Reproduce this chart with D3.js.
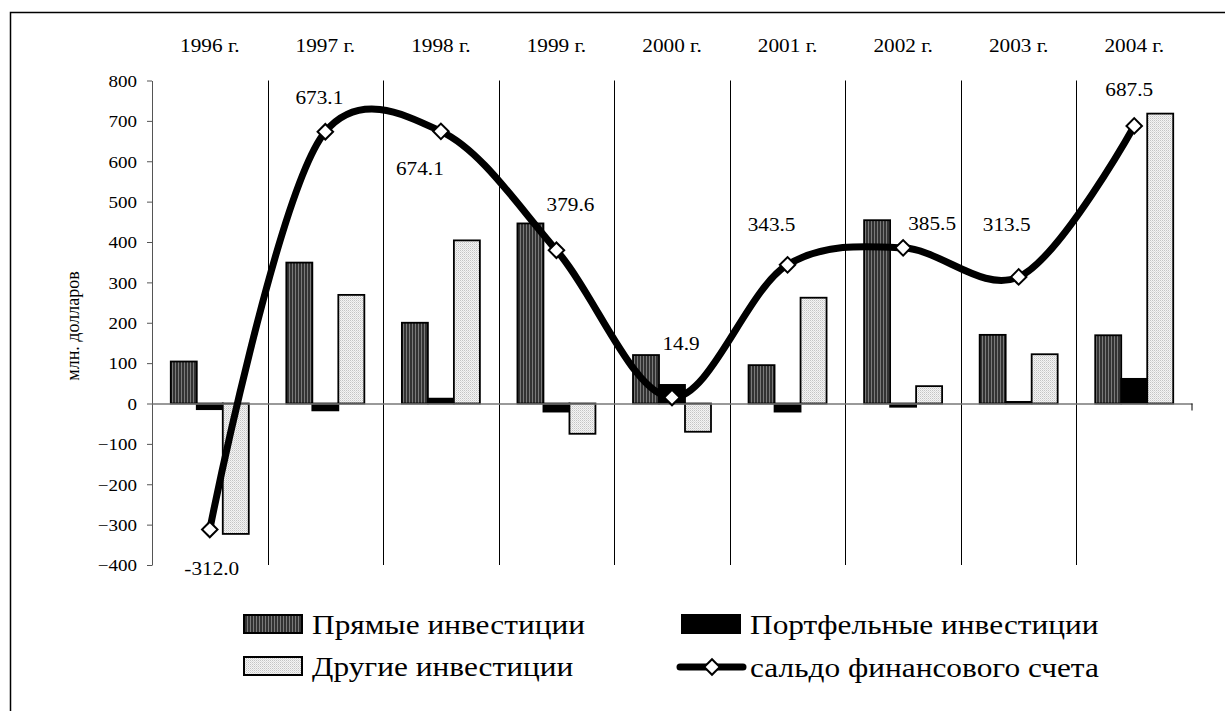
<!DOCTYPE html>
<html>
<head>
<meta charset="utf-8">
<script src="https://cdn.jsdelivr.net/npm/d3@7"></script>
<style>
  body { margin: 0; background: #fff; }
  svg { display: block; }
  svg text { font-family: 'Liberation Serif', 'DejaVu Serif', serif; fill: #000; }
</style>
</head>
<body>
<svg id="chart"></svg>
<script>
var years = ["1996 г.", "1997 г.", "1998 г.", "1999 г.", "2000 г.", "2001 г.", "2002 г.", "2003 г.", "2004 г."];
var direct = [104, 349, 200, 446, 120, 95, 454, 170, 169];
var portfolio = [-14, -17, 12, -20, 46, -20, -8, 4, 61];
var other = [-323, 269, 404, -75, -70, 262, 43, 122, 718];
var balance = [-312.0, 673.1, 674.1, 379.6, 14.9, 343.5, 385.5, 313.5, 687.5];
var yTicks = [-400, -300, -200, -100, 0, 100, 200, 300, 400, 500, 600, 700, 800];
var seriesNames = ["Прямые инвестиции", "Портфельные инвестиции", "Другие инвестиции", "сальдо финансового счета"];

// label offsets from the marker (dx, dy)
var labelOff = [[2, 40], [-6, -34], [-21, 38], [14, -45], [9, -53], [-16, -40], [29, -24], [-12, -52], [-5, -36]];

var W = 1225, H = 711;
var sx = 1.12;   // the fonts look a bit wide in the picture

var svg = d3.select("#chart").attr("width", W).attr("height", H);

var defs = svg.append("defs");
var pd = defs.append("pattern").attr("id", "pDark").attr("patternUnits", "userSpaceOnUse")
    .attr("width", 3).attr("height", 3);
pd.append("rect").attr("width", 3).attr("height", 3).attr("fill", "#333");
pd.append("rect").attr("x", 1).attr("width", 1).attr("height", 3).attr("fill", "#7a7a7a");

var pl = defs.append("pattern").attr("id", "pLight").attr("patternUnits", "userSpaceOnUse")
    .attr("width", 2).attr("height", 2);
pl.append("rect").attr("width", 2).attr("height", 2).attr("fill", "#f4f4f4");
pl.append("rect").attr("width", 1).attr("height", 1).attr("fill", "#c4c4c4");
pl.append("rect").attr("x", 1).attr("y", 1).attr("width", 1).attr("height", 1).attr("fill", "#dcdcdc");

var fills = ["url(#pDark)", "#000", "url(#pLight)"];

// frame (only top and left edges show in the picture)
svg.append("path").attr("d", "M10.5," + H + "V12.5H" + W)
   .attr("fill", "none").attr("stroke", "#000").attr("stroke-width", 1.5);

var x0 = d3.scaleBand().domain(years).range([152, 1192]).padding(0);
var bw = x0.bandwidth();
var x1 = d3.scaleBand().domain([0, 1, 2]).range([bw * 0.1625, bw * 0.8375]).padding(0);
var y = d3.scaleLinear().domain([-400, 800]).range([565, 80.5]);

function stretch(sel, k) {
  sel.each(function() {
    var t = d3.select(this);
    var x = +t.attr("x") || 0, yy = +t.attr("y") || 0;
    t.attr("x", 0).attr("y", 0)
     .attr("transform", "translate(" + x + "," + yy + ") scale(" + k + ",1)");
  });
}

// category separators
svg.append("g").selectAll("line").data(years.slice(1)).join("line")
   .attr("x1", d => Math.round(x0(d)) + 0.5).attr("x2", d => Math.round(x0(d)) + 0.5)
   .attr("y1", y(800)).attr("y2", y(-400))
   .attr("stroke", "#000").attr("stroke-width", 1);

// y axis
var yAxis = d3.axisLeft(y).tickValues(yTicks).tickSize(5).tickPadding(10).tickSizeOuter(0);
var gy = svg.append("g").attr("transform", "translate(152,0)").call(yAxis)
   .attr("font-family", null);
gy.select(".domain").attr("stroke", "#555");
gy.selectAll(".tick line").attr("stroke", "#555");
gy.selectAll(".tick text").attr("font-size", 17).attr("dy", "0.34em");
stretch(gy.selectAll(".tick text").attr("x", -15), sx);

// y title
svg.append("text").attr("transform", "translate(79,326) rotate(-90)")
   .attr("text-anchor", "middle").attr("font-size", 18).text("млн. долларов");

// category labels on top
var gl = svg.append("g").selectAll("text").data(years).join("text")
   .attr("x", d => x0(d) + bw / 2).attr("y", 52)
   .attr("text-anchor", "middle").attr("font-size", 19).text(d => d);
stretch(gl, sx);

// bars
var barData = [];
years.forEach(function(yr, i) {
  [direct[i], portfolio[i], other[i]].forEach(function(v, s) {
    barData.push({yr: yr, s: s, v: v});
  });
});
svg.append("g").selectAll("rect").data(barData).join("rect")
   .attr("x", d => x0(d.yr) + x1(d.s))
   .attr("width", x1.bandwidth())
   .attr("y", d => y(Math.max(0, d.v)))
   .attr("height", d => Math.abs(y(d.v) - y(0)))
   .attr("fill", d => fills[d.s])
   .attr("stroke", "#000").attr("stroke-width", 1.8);

// x axis line
var xAxis = d3.axisBottom(x0).tickSize(0).tickFormat("");
var gx = svg.append("g").attr("transform", "translate(0," + y(0) + ")").call(xAxis);
gx.select(".domain").attr("stroke", "#777").attr("stroke-width", 1.5);
gx.append("line").attr("x1", 1192).attr("x2", 1192).attr("y1", 0).attr("y2", 7).attr("stroke", "#000");

// balance line
var pts = balance.map((v, i) => [x0(years[i]) + bw / 2, y(v)]);
var line = d3.line().curve(d3.curveCatmullRom.alpha(0.25));
svg.append("path").attr("d", line(pts))
   .attr("fill", "none").attr("stroke", "#000").attr("stroke-width", 7)
   .attr("stroke-linejoin", "round");

var diamond = d3.symbol().type(d3.symbolSquare).size(120);
svg.append("g").selectAll("path").data(pts).join("path")
   .attr("d", diamond)
   .attr("transform", d => "translate(" + d[0] + "," + d[1] + ") rotate(45)")
   .attr("fill", "#fff").attr("stroke", "#000").attr("stroke-width", 2);

var dl = svg.append("g").selectAll("text").data(pts).join("text")
   .attr("x", (d, i) => d[0] + labelOff[i][0])
   .attr("y", (d, i) => d[1] + labelOff[i][1] + 6)
   .attr("text-anchor", "middle").attr("font-size", 19)
   .text((d, i) => balance[i].toFixed(1));
stretch(dl, sx);

// legend
var legend = svg.append("g");
var legItems = [
  {name: seriesNames[0], x: 244, y: 624, kind: 0},
  {name: seriesNames[1], x: 682, y: 624, kind: 1},
  {name: seriesNames[2], x: 244, y: 666, kind: 2},
  {name: seriesNames[3], x: 682, y: 667, kind: 3}
];
legItems.forEach(function(it) {
  if (it.kind < 3) {
    legend.append("rect").attr("x", it.x).attr("y", it.y - 9).attr("width", 58).attr("height", 18)
      .attr("fill", fills[it.kind]).attr("stroke", "#000").attr("stroke-width", 2);
  } else {
    legend.append("line").attr("x1", it.x - 2).attr("x2", it.x + 61).attr("y1", it.y).attr("y2", it.y)
      .attr("stroke", "#000").attr("stroke-width", 7).attr("stroke-linecap", "round");
    legend.append("path").attr("d", diamond)
      .attr("transform", "translate(" + (it.x + 30) + "," + it.y + ") rotate(45)")
      .attr("fill", "#fff").attr("stroke", "#000").attr("stroke-width", 2);
  }
  var t = legend.append("text").attr("x", it.x + 68).attr("y", it.y + 10)
    .attr("font-size", 28).text(it.name);
  stretch(t, 1.12);
});
</script>
</body>
</html>
